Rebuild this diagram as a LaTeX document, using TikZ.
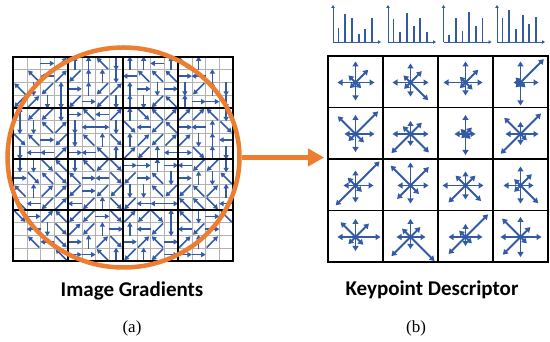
\documentclass[tikz,border=0pt]{standalone}
\usepackage{fontspec}
\newfontfamily\labelfont{Carlito}
\newfontfamily\subfont{Liberation Serif}
\usetikzlibrary{arrows.meta,shapes.geometric}
\definecolor{gradblue}{RGB}{50,90,165}
\definecolor{gradorange}{RGB}{237,125,49}

\begin{document}
\begin{tikzpicture}[x=1pt, y=1pt,
	gradarrow/.style={gradblue, line width=1.5pt, -{Triangle[length=4.5pt,width=5pt]}},
	stararrow/.style={gradblue, line width=1.8pt, -{Triangle[length=5pt,width=6pt]}},
	histaxis/.style={gradblue, line width=0.9pt, -{Triangle[length=3pt,width=3.5pt]}},
	histbar/.style={gradblue, line width=1.8pt},
	caption/.style={font=\labelfont\bfseries\fontsize{21}{25}\selectfont, anchor=base},
	sublabel/.style={font=\subfont\fontsize{17}{20}\selectfont, anchor=base}]

	\useasboundingbox (0,0) rectangle (550,342);

	% ============ PANEL (a): IMAGE GRADIENTS ============

	% Thin cell lines
	\foreach \k in {1,...,15} {
		\draw[gray!60, line width=0.5pt] (13+13.75*\k,81) -- (13+13.75*\k,285);
		\draw[gray!60, line width=0.5pt] (13,81+12.75*\k) -- (233,81+12.75*\k);
	}

	% One gradient arrow per cell (random direction)
	\pgfmathsetseed{11}
	\foreach \i in {0,...,15} {
		\foreach \j in {0,...,15} {
			\pgfmathsetmacro{\cx}{19.875+13.75*\i}
			\pgfmathsetmacro{\cy}{87.375+12.75*\j}
			\pgfmathtruncatemacro{\inside}{((\cx-123.5)/116)^2+((\cy-184.5)/110)^2<1.2}
			\ifnum\inside=1
				\pgfmathrandominteger{\d}{0}{7}
				\pgfmathsetmacro{\len}{mod(\d,2)==1 ? 8 : 7}
				\draw[gradarrow] ([shift={(45*\d+180:\len)}]\cx,\cy) -- ++(45*\d:2*\len);
			\fi
		}
	}

	% Block lines and border
	\foreach \k in {1,2,3} {
		\draw[line width=1.3pt] (13+55*\k,81) -- (13+55*\k,285);
		\draw[line width=1.3pt] (13,81+51*\k) -- (233,81+51*\k);
	}
	\draw[line width=1.8pt] (13,81) rectangle (233,285);

	% Orange window
	\node (circ) [ellipse, draw=gradorange, line width=4.5pt, minimum width=232pt,
		minimum height=220pt, inner sep=0pt] at (123.5,184.5) {};

	% ============ PANEL (b): KEYPOINT DESCRIPTOR ============

	\node (desc) [draw, line width=1.8pt, minimum width=220pt, minimum height=206pt,
		inner sep=0pt] at (438,183) {};
	\foreach \k in {1,2,3} {
		\draw[line width=1.8pt] (328+55*\k,80) -- (328+55*\k,286);
		\draw[line width=1.8pt] (328,80+51.5*\k) -- (548,80+51.5*\k);
	}

	% Stars: E, NE, N, NW, W, SW, S, SE
	\foreach \cx/\cy/\la/\lb/\lc/\ld/\le/\lf/\lg/\lh in {
		355.5/259.5/19/18/21/10/18/8/18/8,
		410.5/259.5/18/16/19/10/18/9/14/25,
		465.5/259.5/17/18/21/8/22/8/13/10,
		520.5/259.5/18/33/21/7/7/7/23/7,
		355.5/208/19/32/19/25/11/10/18/12,
		410.5/208/18/16/13/11/18/27/12/26,
		465.5/208/10/9/19/7/11/6/21/7,
		520.5/208/18/29/12/23/15/28/11/9,
		355.5/156.5/18/34/15/11/12/28/17/9,
		410.5/156.5/18/26/23/28/13/19/18/12,
		465.5/156.5/18/14/14/14/23/24/14/22,
		520.5/156.5/13/16/19/9/17/9/18/25,
		355.5/105/25/19/18/21/18/10/14/11,
		410.5/105/15/14/18/12/14/27/12/34,
		465.5/105/17/32/13/9/17/24/9/9,
		520.5/105/21/14/20/26/20/25/20/9} {
		\foreach \ang/\len in {0/\la, 45/\lb, 90/\lc, 135/\ld, 180/\le, 225/\lf, 270/\lg, 315/\lh}
			\draw[stararrow] (\cx,\cy) -- ++(\ang:\len);
	}

	% Histograms above the columns
	\foreach \x/\ha/\hb/\hc/\hd/\he/\hf in {333/14.3/28/23.7/8/13/24.3,
		388/23/9.7/28.7/16/23.7/9.7, 443.5/7/23.7/11/30.3/16/23.7,
		497/23.7/32/13/27/17.7/25.3} {
		\draw[histaxis] (\x,300) -- (\x,337);
		\draw[histaxis] (\x,300) -- (\x+48,300);
		\foreach \n/\h in {0/\ha, 1/\hb, 2/\hc, 3/\hd, 4/\he, 5/\hf}
			\draw[histbar] (\x+5.5+6.7*\n,300) -- ++(0,\h);
	}

	% Window to descriptor
	\draw[gradorange, line width=5pt, -{Triangle[length=16pt,width=17pt]}, shorten >=3pt]
		(circ.east) -- (circ.east -| desc.west);

	% Labels
	\node (gradtext) [caption] at (132,45) {Image Gradients};
	\node (desctext) [caption] at (432,46) {Keypoint Descriptor};
	\node (gradsub) [sublabel] at (132,9) {(a)};
	\node (descsub) [sublabel] at (416,9) {(b)};

\end{tikzpicture}
\end{document}
